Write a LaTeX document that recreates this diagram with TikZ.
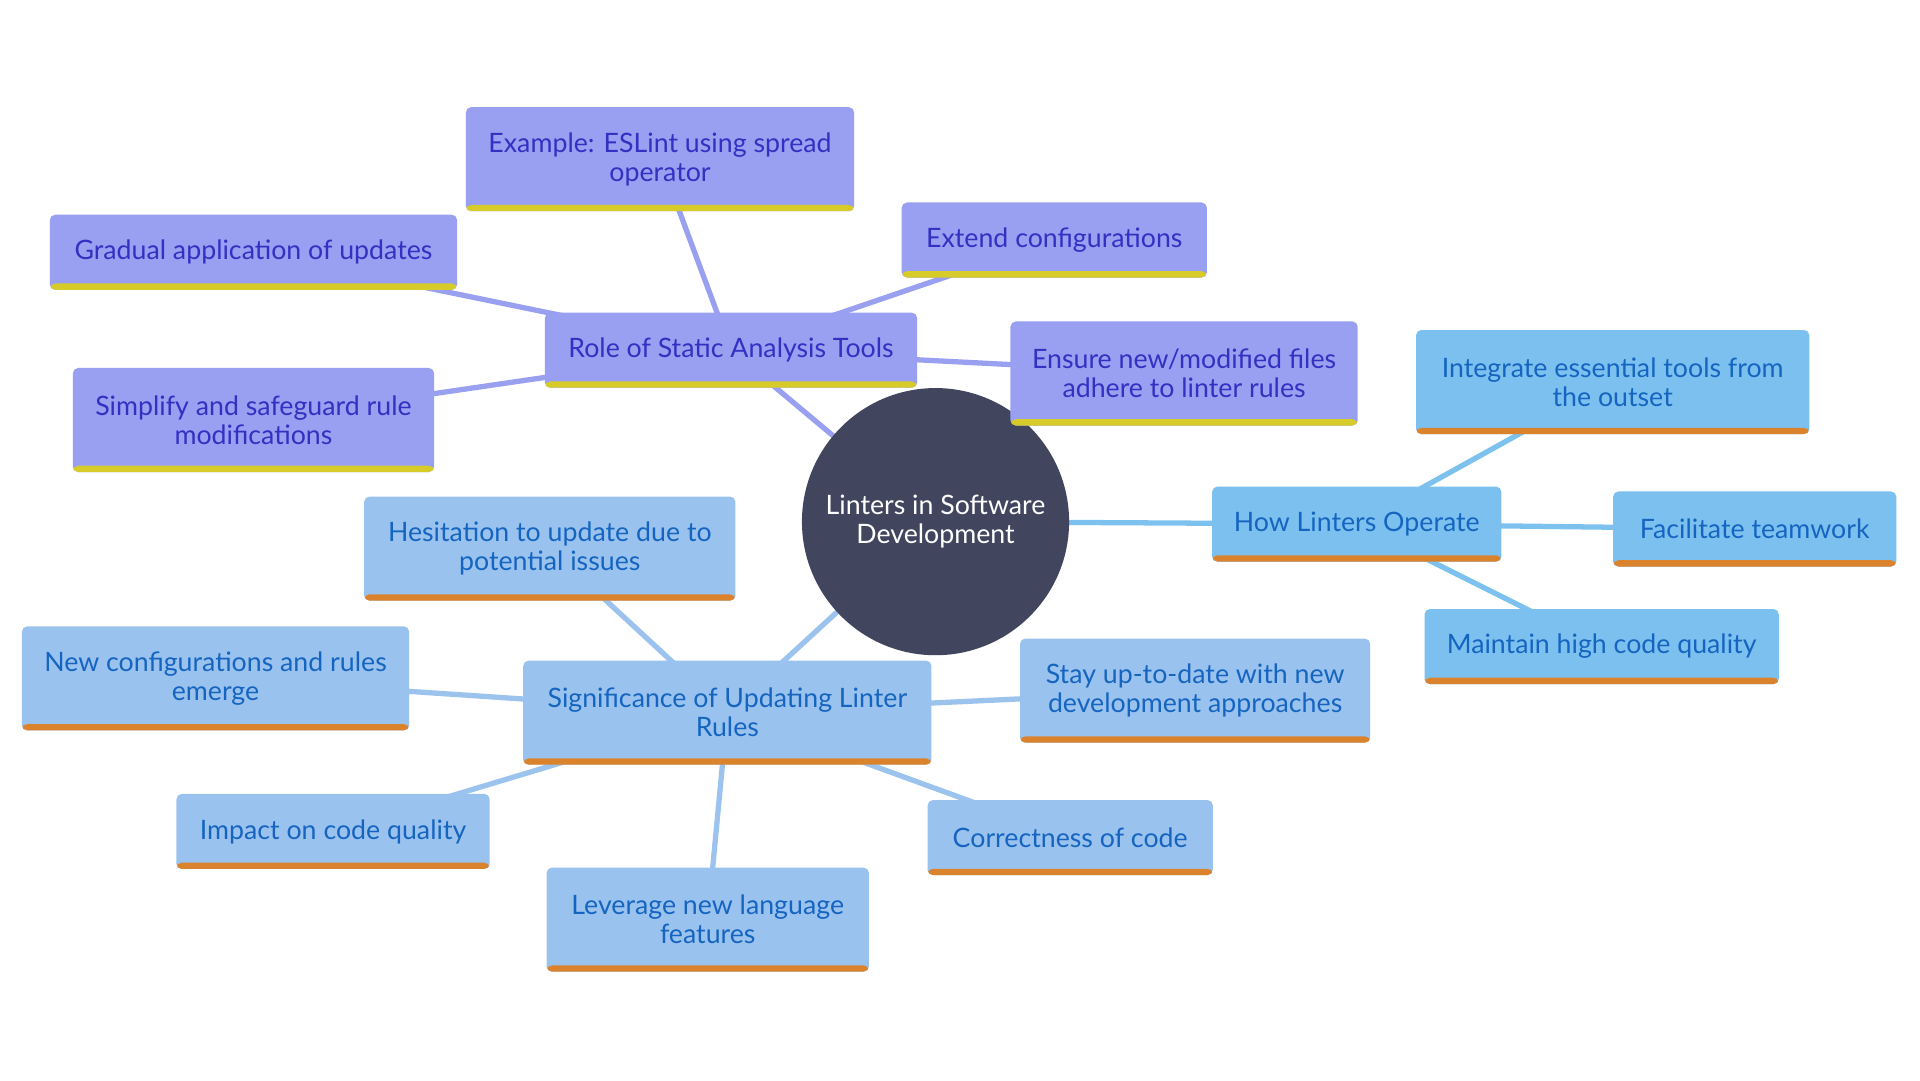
\documentclass[tikz,border=0pt]{standalone}
\usepackage{fontspec}
\setmainfont{Lato}
\usetikzlibrary{backgrounds}
\definecolor{hub}{HTML}{41455E}
\definecolor{stf}{HTML}{999FF1}
\definecolor{stt}{HTML}{3131C2}
\definecolor{stl}{HTML}{D6CB28}
\definecolor{opf}{HTML}{7CC0F0}
\definecolor{upf}{HTML}{9AC2EF}
\definecolor{blt}{HTML}{1565C0}
\definecolor{orl}{HTML}{DB832C}
\definecolor{ste}{HTML}{9AA0F0}
\definecolor{ope}{HTML}{7DC1EE}
\definecolor{upe}{HTML}{9BC3EE}
\tikzset{
  topic/.style={minimum height=7.5mm, inner xsep=2mm, inner ysep=2mm, align=center, rounded corners=1.5pt},
  tall/.style={minimum height=10.4mm},
  stbox/.style={topic, fill=stf, text=stt, path picture={\fill[stl] ([yshift=1.8pt]path picture bounding box.south west) rectangle (path picture bounding box.south east);}},
  opbox/.style={topic, fill=opf, text=blt, path picture={\fill[orl] ([yshift=1.8pt]path picture bounding box.south west) rectangle (path picture bounding box.south east);}},
  upbox/.style={topic, fill=upf, text=blt, path picture={\fill[orl] ([yshift=1.8pt]path picture bounding box.south west) rectangle (path picture bounding box.south east);}},
  lnk/.style={line width=1.5pt}}

\begin{document}
\begin{tikzpicture}[x=0.012245cm, y=-0.012245cm, font={\fontsize{7.6}{8.2}\selectfont}]
\node[circle, fill=hub, text=white, minimum size=26.7mm, align=center] (hub) at (764,426) {Linters in Software\\Development};
% static analysis branch
\node[stbox, minimum width=37.2mm] (role) at (597,286) {Role of Static Analysis Tools};
\node[stbox, tall, minimum width=38.8mm] (eslint) at (539,130) {Example: ESLint using spread\\operator};
\node[stbox, minimum width=30.5mm] (extend) at (861,196) {Extend configurations};
\node[stbox, minimum width=40.7mm] (gradual) at (207,206) {Gradual application of updates};
\node[stbox, tall, minimum width=36.1mm] (simplify) at (207,343) {Simplify and safeguard rule\\modifications};
\node[stbox, tall, minimum width=34.7mm] (ensure) at (967,305) {Ensure new/modified files\\adhere to linter rules};
% how linters operate
\node[opbox, minimum width=28.9mm] (operate) at (1108,428) {How Linters Operate};
\node[opbox, tall, minimum width=39.3mm] (integrate) at (1317,312) {Integrate essential tools from\\the outset};
\node[opbox, minimum width=28.3mm] (teamwork) at (1433,432) {Facilitate teamwork};
\node[opbox, minimum width=35.4mm] (quality) at (1308,528) {Maintain high code quality};
% updating rules
\node[upbox, tall, minimum width=40.8mm] (update) at (594,582) {Significance of Updating Linter\\Rules};
\node[upbox, tall, minimum width=37.1mm] (hesit) at (449,448) {Hesitation to update due to\\potential issues};
\node[upbox, tall, minimum width=38.7mm] (newcfg) at (176,554) {New configurations and rules\\emerge};
\node[upbox, tall, minimum width=35.0mm] (uptodate) at (976,564) {Stay up-to-date with new\\development approaches};
\node[upbox, minimum width=31.3mm] (impact) at (272,679) {Impact on code quality};
\node[upbox, minimum width=28.5mm] (correct) at (874,684) {Correctness of code};
\node[upbox, tall, minimum width=32.2mm] (leverage) at (578,751) {Leverage new language\\features};
\begin{scope}[on background layer]
\fill[white] (0,0) rectangle (1568,882);
\foreach \a/\b in {hub/role, role/eslint, role/extend, role/gradual, role/simplify, role/ensure}
  \draw[lnk, ste] (\a.center) -- (\b.center);
\foreach \a/\b in {hub/operate, operate/integrate, operate/teamwork, operate/quality}
  \draw[lnk, ope] (\a.center) -- (\b.center);
\foreach \a/\b in {hub/update, update/hesit, update/newcfg, update/uptodate, update/impact, update/correct, update/leverage}
  \draw[lnk, upe] (\a.center) -- (\b.center);
\end{scope}
\useasboundingbox (0,0) rectangle (1568,882);
\end{tikzpicture}
\end{document}
